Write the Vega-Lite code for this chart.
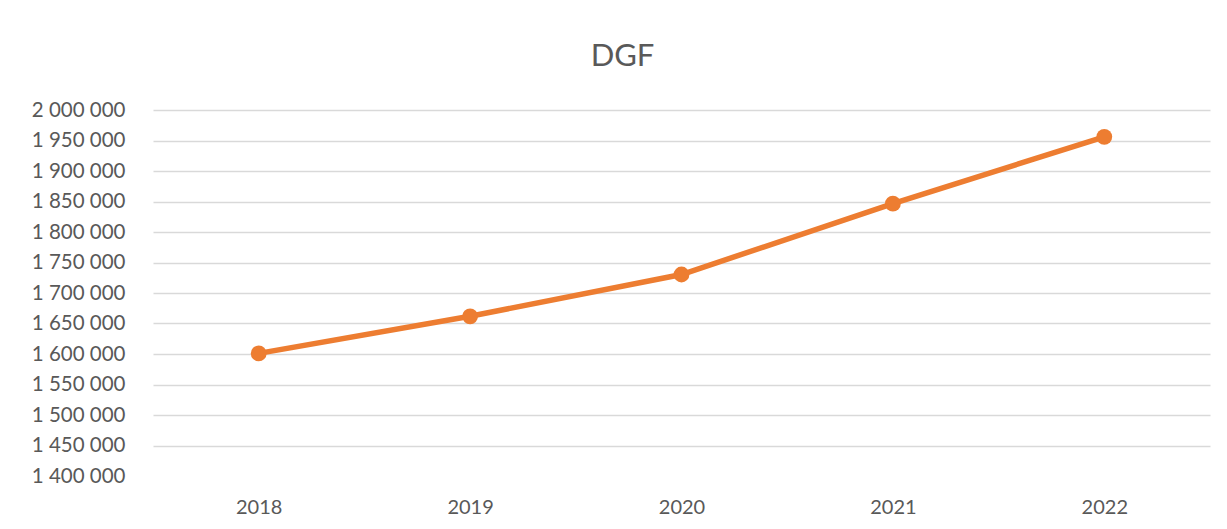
{
  "$schema": "https://vega.github.io/schema/vega-lite/v6.json",
  "autosize": "none",
  "width": 1057,
  "height": 366,
  "padding": {"left": 153, "top": 110, "right": 17, "bottom": 53},
  "background": "white",
  "config": {
    "view": {"stroke": null},
    "font": "Lato",
    "locale": {"number": {"decimal": ",", "thousands": " ", "grouping": [3], "currency": ["", ""]}}
  },
  "title": {
    "text": "DGF",
    "font": "Lato",
    "fontSize": 31,
    "fontWeight": "normal",
    "color": "#595959",
    "anchor": "middle",
    "frame": "group",
    "dx": -59,
    "baseline": "alphabetic",
    "offset": 3
  },
  "data": {
    "values": [
      {"year": "2018", "value": 1601000},
      {"year": "2019", "value": 1661800},
      {"year": "2020", "value": 1730300},
      {"year": "2021", "value": 1846500},
      {"year": "2022", "value": 1956000}
    ]
  },
  "encoding": {
    "x": {
      "field": "year",
      "type": "ordinal",
      "title": null,
      "scale": {"type": "point", "padding": 0.5},
      "axis": {
        "labelAngle": 0,
        "labelFontSize": 20,
        "labelColor": "#595959",
        "labelPadding": 21,
        "ticks": false,
        "domain": false,
        "grid": false
      }
    },
    "y": {
      "field": "value",
      "type": "quantitative",
      "title": null,
      "scale": {"domain": [1400000, 2000000], "nice": false, "zero": false},
      "axis": {
        "values": [1400000, 1450000, 1500000, 1550000, 1600000, 1650000, 1700000, 1750000, 1800000, 1850000, 1900000, 1950000, 2000000],
        "format": ",d",
        "labelFontSize": 20.5,
        "labelColor": "#595959",
        "labelPadding": 28,
        "ticks": false,
        "domain": false,
        "grid": true,
        "gridColor": "#D9D9D9",
        "gridWidth": 1.3,
        "gridOpacity": {"condition": {"test": "datum.value <= 1400000", "value": 0}, "value": 1}
      }
    }
  },
  "layer": [
    {"mark": {"type": "line", "color": "#ED7D31", "strokeWidth": 5.5}},
    {"mark": {"type": "point", "filled": true, "color": "#ED7D31", "size": 250, "opacity": 1}}
  ]
}
